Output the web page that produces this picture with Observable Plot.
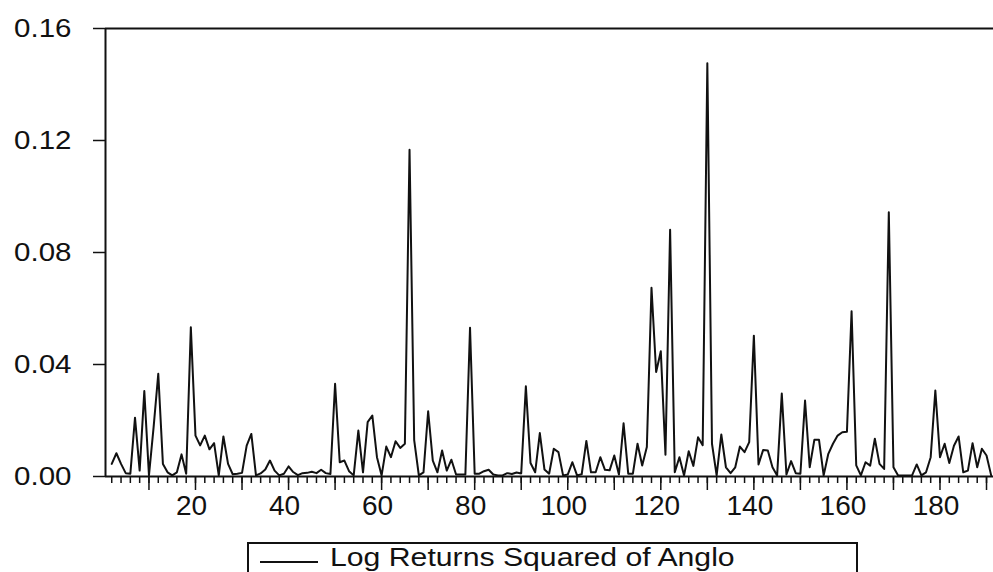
<!DOCTYPE html>
<html>
<head>
<meta charset="utf-8">
<script src="https://cdn.jsdelivr.net/npm/d3@7"></script>
<script src="https://cdn.jsdelivr.net/npm/@observablehq/plot@0.6"></script>
<style>
  html, body { margin: 0; padding: 0; background: #fff; }
  body { width: 993px; height: 572px; position: relative; overflow: hidden; font-family: "Liberation Sans", Arial, sans-serif; }
  #legend { position: absolute; left: 247px; top: 542px; width: 607px; height: 60px; border: 2px solid #111; box-sizing: content-box; }
  #legend .swatch { position: absolute; left: 11px; top: 17px; width: 58px; height: 0; border-top: 2px solid #111; }
  #legend .label { position: absolute; left: 81px; top: 1px; font-size: 25.6px; line-height: 25.6px; color: #111; white-space: nowrap; transform: scaleX(1.18); transform-origin: 0 0; }
</style>
</head>
<body>
<div id="chart"></div>
<div id="legend"><div class="swatch"></div><div class="label">Log Returns Squared of Anglo</div></div>
<script>
const seriesName = "Log Returns Squared of Anglo";
const obs = d3.range(2, 192);
const values = [
  0.0045, 0.0083, 0.0045, 0.0012, 0.0010, 0.0210, 0.0021, 0.0305, 0.0004, 0.0176,
  0.0367, 0.0045, 0.0015, 0.0004, 0.0015, 0.0079, 0.0010, 0.0533, 0.0146, 0.0111,
  0.0146, 0.0097, 0.0119, 0.0004, 0.0143, 0.0045, 0.0008, 0.0010, 0.0013, 0.0110,
  0.0152, 0.0004, 0.0011, 0.0025, 0.0057, 0.0021, 0.0004, 0.0010, 0.0036, 0.0016,
  0.0005, 0.0012, 0.0013, 0.0017, 0.0012, 0.0024, 0.0012, 0.0009, 0.0331, 0.0051,
  0.0057, 0.0019, 0.0004, 0.0164, 0.0015, 0.0194, 0.0218, 0.0069, 0.0004, 0.0107,
  0.0069, 0.0126, 0.0102, 0.0117, 0.1167, 0.0130, 0.0004, 0.0015, 0.0233, 0.0057,
  0.0015, 0.0093, 0.0021, 0.0060, 0.0007, 0.0007, 0.0007, 0.0531, 0.0010, 0.0010,
  0.0019, 0.0024, 0.0007, 0.0004, 0.0004, 0.0012, 0.0009, 0.0014, 0.0011, 0.0322,
  0.0048, 0.0015, 0.0155, 0.0025, 0.0010, 0.0099, 0.0087, 0.0004, 0.0007, 0.0051,
  0.0004, 0.0008, 0.0127, 0.0015, 0.0015, 0.0069, 0.0024, 0.0022, 0.0075, 0.0007,
  0.0190, 0.0010, 0.0010, 0.0117, 0.0039, 0.0105, 0.0674, 0.0373, 0.0447, 0.0078,
  0.0881, 0.0015, 0.0069, 0.0004, 0.0090, 0.0038, 0.0140, 0.0112, 0.1476, 0.0117,
  0.0004, 0.0150, 0.0033, 0.0012, 0.0033, 0.0107, 0.0087, 0.0123, 0.0503, 0.0043,
  0.0095, 0.0093, 0.0033, 0.0004, 0.0296, 0.0007, 0.0055, 0.0012, 0.0010, 0.0271,
  0.0033, 0.0131, 0.0131, 0.0004, 0.0081, 0.0117, 0.0146, 0.0158, 0.0160, 0.0590,
  0.0040, 0.0004, 0.0051, 0.0039, 0.0135, 0.0045, 0.0027, 0.0944, 0.0033, 0.0004,
  0.0004, 0.0004, 0.0004, 0.0043, 0.0004, 0.0015, 0.0069, 0.0307, 0.0069, 0.0117,
  0.0048, 0.0110, 0.0143, 0.0015, 0.0021, 0.0119, 0.0033, 0.0099, 0.0075, 0.0004
];
const yTicks = [0, 0.04, 0.08, 0.12, 0.16];
const xLabelTicks = [20, 40, 60, 80, 100, 120, 140, 160, 180];
const xMajorTicks = [10, 20, 30, 40, 50, 60, 70, 80, 90, 100, 110, 120, 130, 140, 150, 160, 170, 180, 190];
const xMinorTicks = d3.range(2, 192, 2);

const data = obs.map((x, i) => ({x, v: values[i]}));
const xDomain = [0.66, 191.5];
const ink = "#111";

const chart = Plot.plot({
  width: 993,
  height: 530,
  marginTop: 28,
  marginBottom: 54,
  marginLeft: 105,
  marginRight: 0,
  x: {domain: xDomain, label: null},
  y: {domain: [0, 0.16], label: null},
  style: {fontFamily: "'Liberation Sans', Arial, sans-serif", color: ink, background: "#fff", overflow: "visible"},
  marks: [
    Plot.axisX({ticks: xMinorTicks, tickSize: 7, tickFormat: () => "", strokeWidth: 1.5, label: null}),
    Plot.axisX({ticks: xMajorTicks, tickSize: 14, tickFormat: () => "", strokeWidth: 1.5, label: null}),
    Plot.axisX({ticks: xLabelTicks, tickSize: 0, tickPadding: 19, fontSize: 28, dx: -4, label: null}),
    Plot.axisY({ticks: yTicks, tickSize: 12, tickPadding: 22, tickFormat: d3.format(".2f"), fontSize: 25, strokeWidth: 1.5, label: null}),
    Plot.ruleY([0.16], {stroke: ink, strokeWidth: 2}),
    Plot.ruleY([0], {stroke: ink, strokeWidth: 2}),
    Plot.ruleX([xDomain[0]], {stroke: ink, strokeWidth: 2}),
    Plot.line(data, {x: "x", y: "v", stroke: ink, strokeWidth: 2})
  ]
});

d3.select(chart).selectAll('g[aria-label="y-axis tick label"] text').each(function() {
  const t = this.getAttribute("transform");
  if (t) {
    this.setAttribute("transform", t + " scale(1.18,1)");
  } else {
    const x = +this.getAttribute("x") || 0, y = +this.getAttribute("y") || 0;
    this.removeAttribute("x"); this.removeAttribute("y");
    this.setAttribute("transform", `translate(${x},${y}) scale(1.18,1)`);
  }
});

document.getElementById("chart").append(chart);
</script>
</body>
</html>
